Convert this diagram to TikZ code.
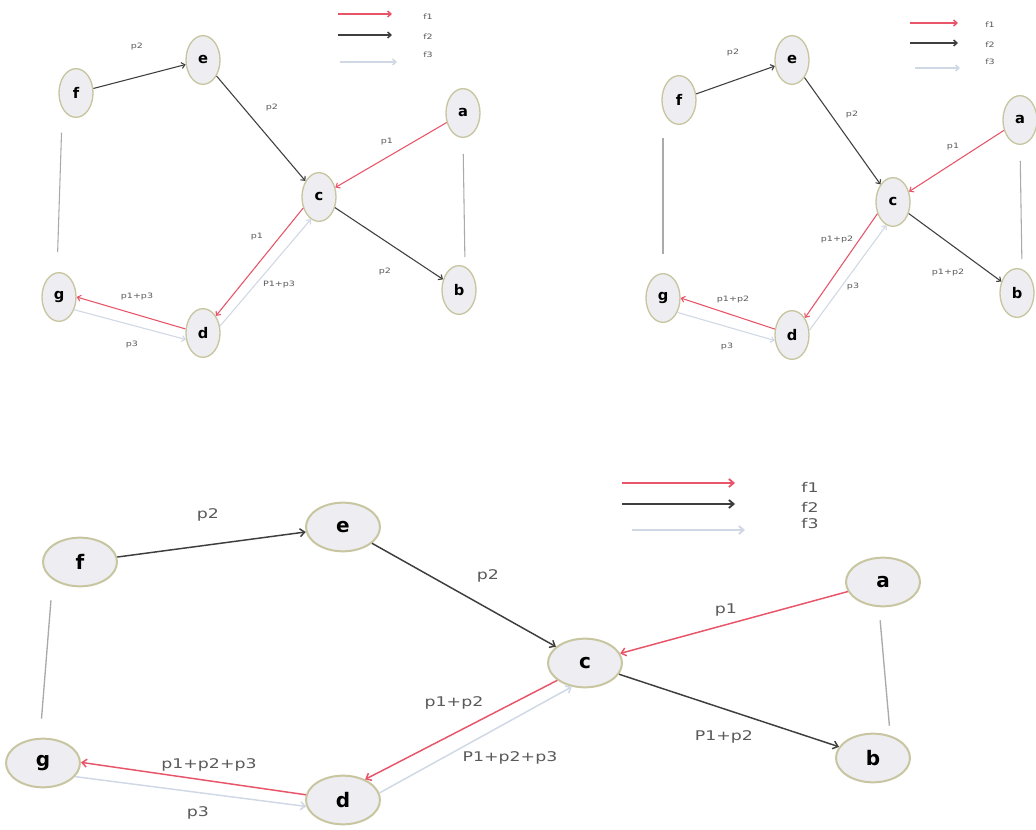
\documentclass[tikz,border=0pt]{standalone}
\usepackage{fontspec}
\setmainfont{DejaVu Sans}
\newfontfamily\lblfont[FakeStretch=1.3]{DejaVu Sans}
\usetikzlibrary{arrows.meta,calc,shapes.geometric}
\definecolor{fone}{RGB}{232,84,104}
\definecolor{ftwo}{RGB}{62,62,62}
\definecolor{fthree}{RGB}{208,216,230}
\definecolor{linkc}{RGB}{170,170,170}
\definecolor{lblc}{RGB}{90,90,90}
\definecolor{nborder}{RGB}{200,198,160}
\definecolor{nfill}{RGB}{238,238,242}
\begin{document}
\begin{tikzpicture}[x=0.75pt,y=-0.75pt,
  sn/.style={ellipse,draw=nborder,fill=nfill,line width=1pt,inner sep=0pt,
    minimum width=25.5pt,minimum height=36.5pt,font=\bfseries\fontsize{11}{11}\selectfont},
  bn/.style={ellipse,draw=nborder,fill=nfill,line width=1.5pt,inner sep=0pt,
    minimum width=55.5pt,minimum height=36.5pt,font=\bfseries\fontsize{15}{15}\selectfont},
  st/.style={-{Straight Barb[length=2.5pt,width=4.5pt]},line width=0.8pt},
  bt/.style={-{Straight Barb[length=3.5pt,width=6pt]},line width=1.1pt},
  fa/.style={draw=fone},
  fb/.style={draw=ftwo},
  fc/.style={draw=fthree},
  lk/.style={draw=linkc,line width=0.8pt},
  sl/.style={font=\lblfont\fontsize{5.5}{6}\selectfont,text=lblc,inner sep=1pt},
  bl/.style={font=\lblfont\fontsize{10}{11}\selectfont,text=lblc,inner sep=1pt}]
\useasboundingbox (0,0) rectangle (1036,830);
\fill[white] (0,0) rectangle (1036,830);

%%%%%%%%%%%% top-left
\node[sn] (TLf) at (76,93) {f};
\node[sn] (TLe) at (203,60) {e};
\node[sn] (TLc) at (319,197) {c};
\node[sn] (TLa) at (463,113) {a};
\node[sn] (TLb) at (459,290) {b};
\node[sn] (TLg) at (59,297) {g};
\node[sn] (TLd) at (203,333) {d};
\draw[st,fb] (TLf) -- (TLe);
\draw[st,fb] (TLe) -- (TLc);
\draw[st,fa] (TLa) -- (TLc);
\draw[st,fb] (TLc) -- (TLb);
\draw[st,fa] (TLc.215) -- (TLd.53);
\draw[st,fc] (TLd.22) -- (TLc.250);
\draw[st,fa] (TLd.167) -- (TLg.0);
\draw[st,fc] (TLg.320) -- (TLd.201);
\draw[lk,shorten <=11pt,shorten >=15pt] ([xshift=-10.5pt]TLf.south) -- ([xshift=-1.5pt]TLg.north);
\draw[lk,shorten <=12pt,shorten >=6pt] (TLa.south) -- ([xshift=4.5pt]TLb.north);
\node[sl] (TLl1) at (137,47) {p2};
\node[sl] (TLl2) at (272,108) {p2};
\node[sl] (TLl3) at (387,142) {p1};
\node[sl] (TLl4) at (257,237) {p1};
\node[sl] (TLl5) at (279,285) {P1+p3};
\node[sl] (TLl6) at (137,297) {p1+p3};
\node[sl] (TLl7) at (132,345) {p3};
\node[sl] (TLl8) at (385,272) {p2};
\coordinate (TLr1) at (338,14); \coordinate (TLr2) at (392,14);
\coordinate (TLk1) at (338,35); \coordinate (TLk2) at (392,35);
\coordinate (TLg1) at (340,62); \coordinate (TLg2) at (397,62);
\draw[st,fa,line width=1.1pt] (TLr1) -- (TLr2);
\draw[st,fb,line width=1.1pt] (TLk1) -- (TLk2);
\draw[st,fc,line width=1.1pt] (TLg1) -- (TLg2);
\node[sl] (TLf1) at (428,17) {f1};
\node[sl] (TLf2) at (428,37) {f2};
\node[sl] (TLf3) at (428,55) {f3};

%%%%%%%%%%%% top-right
\node[sn] (TRf) at (679,100) {f};
\node[sn] (TRe) at (792,60) {e};
\node[sn] (TRc) at (893,202) {c};
\node[sn] (TRa) at (1020,120) {a};
\node[sn] (TRb) at (1017,293) {b};
\node[sn] (TRg) at (663,298) {g};
\node[sn] (TRd) at (792,335) {d};
\draw[st,fb] (TRf) -- (TRe);
\draw[st,fb] (TRe) -- (TRc);
\draw[st,fa] (TRa) -- (TRc);
\draw[st,fb] (TRc) -- (TRb);
\draw[st,fa] (TRc.217) -- (TRd.53);
\draw[st,fc] (TRd.15) -- (TRc.254);
\draw[st,fa] (TRd.161) -- (TRg.0);
\draw[st,fc] (TRg.315) -- (TRd.198);
\draw[lk,shorten <=10pt,shorten >=14pt] (TRg.north |- TRf.south) -- (TRg.north);
\draw[lk,shorten <=12pt,shorten >=6.75pt] (TRa.south) -- ([xshift=3.75pt]TRb.north);
\node[sl] (TRl1) at (733,53) {p2};
\node[sl] (TRl2) at (852,115) {p2};
\node[sl] (TRl3) at (953,147) {p1};
\node[sl] (TRl4) at (837,240) {p1+p2};
\node[sl] (TRl5) at (853,287) {p3};
\node[sl] (TRl6) at (948,273) {p1+p2};
\node[sl] (TRl7) at (733,300) {p1+p2};
\node[sl] (TRl8) at (727,347) {p3};
\coordinate (TRr1) at (910,23); \coordinate (TRr2) at (958,23);
\coordinate (TRk1) at (910,43); \coordinate (TRk2) at (958,43);
\coordinate (TRg1) at (915,68); \coordinate (TRg2) at (960,68);
\draw[st,fa,line width=1.1pt] (TRr1) -- (TRr2);
\draw[st,fb,line width=1.1pt] (TRk1) -- (TRk2);
\draw[st,fc,line width=1.1pt] (TRg1) -- (TRg2);
\node[sl] (TRf1) at (990,25) {f1};
\node[sl] (TRf2) at (990,45) {f2};
\node[sl] (TRf3) at (990,62) {f3};

%%%%%%%%%%%% bottom
\node[bn] (Bf) at (80,562) {f};
\node[bn] (Be) at (343,527) {e};
\node[bn] (Bc) at (585,663) {c};
\node[bn] (Ba) at (883,582) {a};
\node[bn] (Bb) at (873,758) {b};
\node[bn] (Bg) at (43,763) {g};
\node[bn] (Bd) at (343,800) {d};
\draw[bt,fb] (Bf) -- (Be);
\draw[bt,fb] (Be) -- (Bc);
\draw[bt,fa] (Ba) -- (Bc);
\draw[bt,fb] (Bc) -- (Bb);
\draw[bt,fa] (Bc.212) -- (Bd.43);
\draw[bt,fc] (Bd.11) -- (Bc.241);
\draw[bt,fa] (Bd.172) -- (Bg.1);
\draw[bt,fc] (Bg.337) -- (Bd.190);
\draw[lk,line width=1pt,shorten <=9.75pt,shorten >=14.25pt] ([xshift=-21pt]Bf.south) -- ([xshift=-2.25pt]Bg.north);
\draw[lk,line width=1pt,shorten <=9.75pt,shorten >=5.25pt] ([xshift=-3pt]Ba.south) -- ([xshift=12.75pt]Bb.north);
\node[bl] (Bl1) at (208,515) {p2};
\node[bl] (Bl2) at (488,576) {p2};
\node[bl] (Bl3) at (726,610) {p1};
\node[bl] (Bl4) at (454,703) {p1+p2};
\node[bl] (Bl5) at (510,758) {P1+p2+p3};
\node[bl] (Bl6) at (209,765) {p1+p2+p3};
\node[bl] (Bl7) at (198,813) {p3};
\node[bl] (Bl8) at (724,737) {P1+p2};
\coordinate (Br1) at (622,483); \coordinate (Br2) at (735,483);
\coordinate (Bk1) at (622,504); \coordinate (Bk2) at (735,504);
\coordinate (Bg1) at (632,530); \coordinate (Bg2) at (745,530);
\draw[bt,fa,line width=1.4pt] (Br1) -- (Br2);
\draw[bt,fb,line width=1.4pt] (Bk1) -- (Bk2);
\draw[bt,fc,line width=1.4pt] (Bg1) -- (Bg2);
\node[bl] (Bf1) at (810,487) {f1};
\node[bl] (Bf2) at (810,507) {f2};
\node[bl] (Bf3) at (810,524) {f3};
\end{tikzpicture}
\end{document}
